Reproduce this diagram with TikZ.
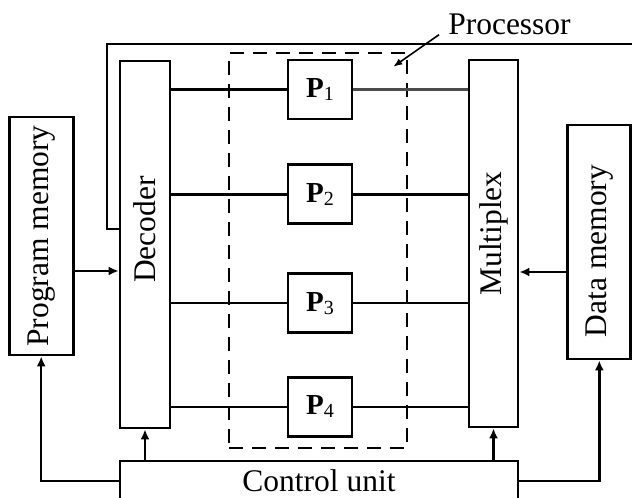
\documentclass[tikz,border=0pt]{standalone}
\usepackage{graphicx}
\usepackage{fontspec}
\setmainfont{Liberation Serif}
\usetikzlibrary{positioning,arrows.meta}

\tikzset{
  unit/.style={draw, line width=2.8pt, inner sep=0pt},
  pbox/.style={draw, line width=2.8pt, minimum width=64pt, minimum height=59pt, inner sep=0pt},
  link/.style={line width=2.5pt},
  arr/.style={line width=2.5pt, -{Latex[length=10pt,width=9pt]}},
}
\newcommand{\pname}[1]{{\fontsize{29}{29}\selectfont\bfseries P}\raisebox{-3pt}{\fontsize{20}{20}\selectfont #1}}

\begin{document}
\begin{tikzpicture}[x=1pt, y=-1pt, font=\fontsize{31.5}{32}\selectfont]
\clip (0,0) rectangle (632,498);
\node[unit, minimum width=50pt, minimum height=367pt] (decoder) at (145,244.5) {\rotatebox{90}{\hspace{30pt}Decoder}};
\node[unit, minimum width=64pt, minimum height=238pt, left=44pt of decoder, yshift=8.5pt] (progmem) {\rotatebox{90}{Program memory}};
\node[unit, minimum width=49pt, minimum height=367pt] (mux) at (493.5,243.5) {\rotatebox{90}{\hspace{20pt}Multiplex}};
\node[unit, minimum width=63pt, minimum height=234pt, right=47pt of mux, yshift=1.5pt] (datamem) {\rotatebox{90}{Data memory\hspace{18pt}}};
\node[unit, minimum width=398pt, minimum height=40pt] (ctrl) at (319,481) {Control unit};

% processor block
\node[draw, line width=2.5pt, dash pattern=on 14pt off 9pt, minimum width=178pt, minimum height=395pt] (procbox) at (318,250.5) {};
\node[pbox] (P1) at (320,89.5) {\pname{1}};
\node[pbox, below=43pt of P1] (P2) {\pname{2}};
\node[pbox, below=47pt of P2] (P3) {\pname{3}};
\node[pbox, below=42pt of P3] (P4) {\pname{4}};
\node[inner sep=0pt] (proc) at (509.5,24) {Processor};
\draw[line width=1.6pt, -{Latex[length=9pt,width=7pt]}] ([xshift=-9pt]proc.south west) -- ([xshift=-15pt,yshift=-15pt]procbox.north east);

\foreach \i in {1,...,4}
  \draw[link] (decoder.east |- P\i) -- (P\i.west);
\draw[link, gray!60!black] (P1.east) -- (mux.west |- P1);
\foreach \i in {2,3,4}
  \draw[link] (P\i.east) -- (mux.west |- P\i);

% memories and control
\draw[arr] (progmem.east |- 0,271) -- (decoder.west |- 0,271);
\draw[arr] (datamem.west |- 0,272) -- (mux.east |- 0,272);
\draw[arr] (decoder.south |- ctrl.north) -- (decoder.south);
\draw[arr] (mux.south |- ctrl.north) -- (mux.south);
\draw[arr] (ctrl.west) -| (progmem.south);
\draw[arr] (ctrl.east) -| (datamem.south);

% feedback to the decoder
\coordinate (topend) at (632,44);
\coordinate (sideend) at (632,261);
\draw[link] (decoder.west |- 0,229) -| (107,44) -- (topend);
\draw[link] (datamem.east |- sideend) -- (sideend);
\end{tikzpicture}
\end{document}
